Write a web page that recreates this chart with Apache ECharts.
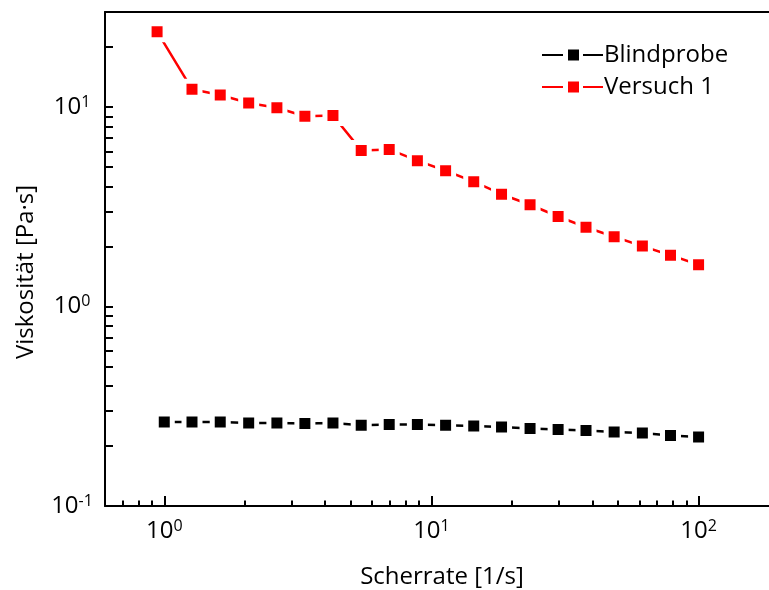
<!DOCTYPE html>
<html>
<head>
<meta charset="utf-8">
<script src="https://cdn.jsdelivr.net/npm/echarts@6/dist/echarts.min.js"></script>
<style>
html,body{margin:0;padding:0;background:#fff;overflow:hidden;}
#chart{width:769px;height:590px;}
</style>
</head>
<body>
<div id="chart"></div>
<script>
// ---- data ----
const seriesNames = ['Blindprobe', 'Versuch 1'];
const xBlind = [1, 1.27, 1.62, 2.07, 2.64, 3.36, 4.28, 5.46, 6.95, 8.86, 11.3, 14.4, 18.3, 23.4, 29.8, 37.9, 48.3, 61.6, 78.5, 100];
const yBlind = [0.264, 0.264, 0.264, 0.261, 0.261, 0.259, 0.261, 0.254, 0.256, 0.256, 0.254, 0.252, 0.249, 0.245, 0.242, 0.239, 0.235, 0.232, 0.226, 0.222];
const xVersuch = [0.94, 1.27, 1.62, 2.07, 2.64, 3.36, 4.28, 5.46, 6.95, 8.86, 11.3, 14.4, 18.3, 23.4, 29.8, 37.9, 48.3, 61.6, 78.5, 100];
const yVersuch = [23.9, 12.3, 11.5, 10.5, 9.93, 9.01, 9.09, 6.07, 6.14, 5.39, 4.80, 4.23, 3.66, 3.24, 2.83, 2.50, 2.24, 2.01, 1.81, 1.62];

// ---- axis ticks ----
const xMajor = [1, 10, 100];
const xMinor = [0.7, 0.8, 0.9, 2, 3, 4, 5, 6, 7, 8, 9, 20, 30, 40, 50, 60, 70, 80, 90];
const yMajor = [0.1, 1, 10];
const yMinor = [0.2, 0.3, 0.4, 0.5, 0.6, 0.7, 0.8, 0.9, 2, 3, 4, 5, 6, 7, 8, 9, 20];
const xTitle = 'Scherrate [1/s]';
const yTitle = 'Viskosität [Pa·s]';

const FONT = '"Open Sans", "Noto Sans", sans-serif';
const pairs = (xs, ys) => xs.map((x, i) => [x, ys[i]]);
const powLabel = v => '{b|10}{s|' + Math.round(Math.log10(v)) + '}';
const rich = {
  b: {fontSize: 24, fontFamily: FONT, color: '#000', lineHeight: 26},
  s: {fontSize: 16, fontFamily: FONT, color: '#000', lineHeight: 16, verticalAlign: 'top'}
};
const RECT = {left: 105, top: 12, width: 674, height: 494, outerBoundsMode: 'none', containLabel: false, show: false};
const XMIN = 0.6, XMAX = 200, YMIN = 0.1, YMAX = 30;
const tickStyle = {color: '#000', width: 2};
const lineOn = {show: true, onZero: false, lineStyle: {color: '#000', width: 2}};
const lineOff = {show: false, onZero: false};

const chart = echarts.init(document.getElementById('chart'), null, {renderer: 'canvas'});
chart.setOption({
  animation: false,
  backgroundColor: '#fff',
  grid: RECT,
  legend: {
    orient: 'vertical', left: 537, top: 37,
    itemWidth: 61, itemHeight: 11, itemGap: 6,
    itemStyle: {borderWidth: 0},
    textStyle: {fontFamily: FONT, fontSize: 24, color: '#000', lineHeight: 26, padding: [0, 0, 0, -4]},
    data: seriesNames.map(n => ({name: n, icon: 'path://M0,4.5H21V6.5H0Z M26,0H37V11H26Z M41,4.5H61V6.5H41Z'}))
  },
  xAxis: [{
    type: 'log', min: XMIN, max: XMAX, position: 'bottom',
    name: xTitle, nameLocation: 'middle', nameGap: 59,
    nameTextStyle: {fontFamily: FONT, fontSize: 24, color: '#000'},
    axisLine: lineOn,
    axisTick: {show: true, inside: true, length: 10, lineStyle: tickStyle, customValues: xMajor},
    axisLabel: {show: true, margin: 12, formatter: powLabel, rich: rich, customValues: xMajor},
    splitLine: {show: false}
  }, {
    type: 'log', min: XMIN, max: XMAX, position: 'bottom',
    axisLine: lineOff,
    axisTick: {show: true, inside: true, length: 5.5, lineStyle: tickStyle, customValues: xMinor},
    axisLabel: {show: false},
    splitLine: {show: false}
  }, {
    type: 'log', min: XMIN, max: XMAX, position: 'top',
    axisLine: lineOn,
    axisTick: {show: false}, axisLabel: {show: false}, splitLine: {show: false}
  }],
  yAxis: [{
    type: 'log', min: YMIN, max: YMAX, position: 'left',
    name: yTitle, nameLocation: 'middle', nameGap: 67,
    nameTextStyle: {fontFamily: FONT, fontSize: 24, color: '#000', padding: [0, 26, 0, 0]},
    axisLine: lineOn,
    axisTick: {show: true, inside: true, length: 8, lineStyle: tickStyle, customValues: yMajor.concat(yMinor)},
    axisLabel: {show: true, margin: 33, align: 'center', formatter: powLabel, rich: rich, customValues: yMajor},
    splitLine: {show: false}
  }],
  series: [{
    name: seriesNames[0], type: 'line', xAxisIndex: 0, yAxisIndex: 0,
    data: pairs(xBlind, yBlind),
    symbol: 'rect', symbolSize: 16, showSymbol: true, showAllSymbol: true,
    lineStyle: {color: '#000', width: 2.5},
    itemStyle: {color: '#000', borderColor: '#fff', borderWidth: 5},
    emphasis: {disabled: true}
  }, {
    name: seriesNames[1], type: 'line', xAxisIndex: 0, yAxisIndex: 0,
    data: pairs(xVersuch, yVersuch),
    symbol: 'rect', symbolSize: 16, showSymbol: true, showAllSymbol: true,
    lineStyle: {color: '#ff0000', width: 2.5},
    itemStyle: {color: '#ff0000', borderColor: '#fff', borderWidth: 5},
    emphasis: {disabled: true}
  }]
});
</script>
</body>
</html>
